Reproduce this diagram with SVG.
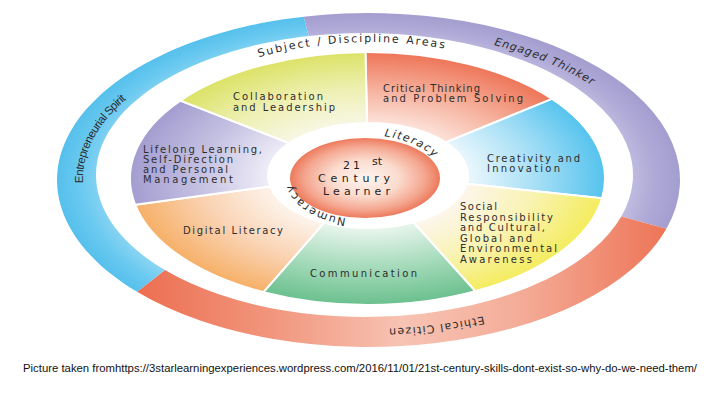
<svg xmlns="http://www.w3.org/2000/svg" width="720" height="405" viewBox="0 0 720 405">
<style>
.lbl{font-family:"DejaVu Sans","Liberation Sans",sans-serif;font-size:10px;fill:#2e2e2e}
.ring{font-family:"DejaVu Sans","Liberation Sans",sans-serif;font-size:11px;fill:#2a2a2a}
.ctr{font-family:"DejaVu Sans","Liberation Sans",sans-serif;font-size:11px;fill:#222}
.sep{stroke:#fff;stroke-width:2;stroke-linejoin:round}
</style>
<defs>
<radialGradient id="gBlue" gradientUnits="userSpaceOnUse" cx="0" cy="0" r="1" gradientTransform="translate(368.5 180) scale(311.5 167)">
<stop offset="0.84" stop-color="#8fd6f3"/><stop offset="0.92" stop-color="#6ccaf0"/><stop offset="1" stop-color="#55c0ec"/></radialGradient>
<radialGradient id="gPurple" gradientUnits="userSpaceOnUse" cx="0" cy="0" r="1" gradientTransform="translate(368.5 180) scale(311.5 167)">
<stop offset="0.84" stop-color="#c0bce0"/><stop offset="0.92" stop-color="#aea9d6"/><stop offset="1" stop-color="#a49ed0"/></radialGradient>
<linearGradient id="gSalmon" gradientUnits="userSpaceOnUse" x1="137" y1="0" x2="666" y2="0">
<stop offset="0" stop-color="#ec6f51"/><stop offset="0.25" stop-color="#f1957c"/><stop offset="0.5" stop-color="#f7c3b3"/><stop offset="0.72" stop-color="#f4ad99"/><stop offset="1" stop-color="#ed7557"/></linearGradient>
<radialGradient id="wCrit" gradientUnits="userSpaceOnUse" cx="0" cy="0" r="1" gradientTransform="translate(367.5 178.5) scale(237.5 126.5)"><stop offset="0.4" stop-color="#fde9e2"/><stop offset="0.7" stop-color="#f6b29e"/><stop offset="1" stop-color="#ee7558"/></radialGradient>
<radialGradient id="wCrea" gradientUnits="userSpaceOnUse" cx="0" cy="0" r="1" gradientTransform="translate(367.5 178.5) scale(237.5 126.5)"><stop offset="0.4" stop-color="#f0f9fd"/><stop offset="0.7" stop-color="#a9e0f6"/><stop offset="1" stop-color="#55c3ee"/></radialGradient>
<radialGradient id="wSoc" gradientUnits="userSpaceOnUse" cx="0" cy="0" r="1" gradientTransform="translate(367.5 178.5) scale(237.5 126.5)"><stop offset="0.4" stop-color="#fdf6ee"/><stop offset="0.7" stop-color="#f9f3b4"/><stop offset="1" stop-color="#f4ec5e"/></radialGradient>
<radialGradient id="wCom" gradientUnits="userSpaceOnUse" cx="0" cy="0" r="1" gradientTransform="translate(367.5 178.5) scale(237.5 126.5)"><stop offset="0.4" stop-color="#e8f5ec"/><stop offset="0.7" stop-color="#a6dbbb"/><stop offset="1" stop-color="#6bc08f"/></radialGradient>
<radialGradient id="wDig" gradientUnits="userSpaceOnUse" cx="0" cy="0" r="1" gradientTransform="translate(367.5 178.5) scale(237.5 126.5)"><stop offset="0.4" stop-color="#fdf4ec"/><stop offset="0.7" stop-color="#fad3b3"/><stop offset="1" stop-color="#f6b068"/></radialGradient>
<radialGradient id="wLife" gradientUnits="userSpaceOnUse" cx="0" cy="0" r="1" gradientTransform="translate(367.5 178.5) scale(237.5 126.5)"><stop offset="0.4" stop-color="#f1f0f8"/><stop offset="0.7" stop-color="#c6c2e3"/><stop offset="1" stop-color="#a39dd0"/></radialGradient>
<radialGradient id="wCol" gradientUnits="userSpaceOnUse" cx="0" cy="0" r="1" gradientTransform="translate(367.5 178.5) scale(237.5 126.5)"><stop offset="0.4" stop-color="#f8f8ea"/><stop offset="0.7" stop-color="#eef0b4"/><stop offset="1" stop-color="#dce266"/></radialGradient>
<radialGradient id="gDisc" gradientUnits="userSpaceOnUse" cx="0" cy="0" r="1" gradientTransform="translate(365 178) scale(75 40)"><stop offset="0" stop-color="#fef4ef"/><stop offset="0.45" stop-color="#fbdccf"/><stop offset="0.8" stop-color="#f4a68f"/><stop offset="1" stop-color="#ed7a5c"/></radialGradient>
<path id="subjPath" d="M160.42,110.5 A242 137 0 0 1 579.58,110.5"/>
<path id="engPath" d="M407.4,31.45 A290 150 0 0 1 635.9,123.8"/>
<path id="entPath" d="M91.4,215.3 A284 150 0 0 1 169.7,71.1"/>
<path id="ethPath" d="M589.1,275.4 A290 150 0 0 1 267.8,320"/>
<path id="litPath" d="M352.5,135.7 A78 44 0 0 1 442.8,171.4"/>
<path id="numPath" d="M366,220 A74 41 0 0 1 292,179"/>
</defs>
<rect width="720" height="405" fill="#fff"/>

<g id="ring-engaged-thinker">
<path d="M303.74,16.65 A311.5 167 0 0 1 666.39,228.83 L621.27,216.52 A268.5 142 0 0 0 308.68,36.1 Z" fill="url(#gPurple)"/>
<text class="ring" font-style="italic" letter-spacing="0.9"><textPath href="#engPath" startOffset="141" text-anchor="middle">Engaged Thinker</textPath></text>
</g>
<g id="ring-ethical-citizen">
<path d="M666.39,228.83 A311.5 167 0 0 1 137.02,291.74 L164.98,270.01 A268.5 142 0 0 0 621.27,216.52 Z" fill="url(#gSalmon)"/>
<text class="ring" letter-spacing="1.2"><textPath href="#ethPath" startOffset="162" text-anchor="middle">Ethical Citizen</textPath></text>
</g>
<g id="ring-entrepreneurial-spirit">
<path d="M137.02,291.74 A311.5 167 0 0 1 303.74,16.65 L308.68,36.1 A268.5 142 0 0 0 164.98,270.01 Z" fill="url(#gBlue)"/>
<text font-family="'Liberation Sans',Arial,sans-serif" font-size="11.5" fill="#2a2a2a" letter-spacing="-0.5"><textPath href="#entPath" startOffset="82" text-anchor="middle">Entrepreneurial Spirit</textPath></text>
</g>
<g id="label-subject-areas">
<text class="ring" letter-spacing="1.9"><textPath href="#subjPath" startOffset="46%" text-anchor="middle">Subject / Discipline Areas</textPath></text>
</g>

<g id="wedge-critical-thinking">
<path class="sep" d="M365.43,52 A237.5 126.5 0 0 1 552.07,98.89 L445.71,142.46 A100 52.5 0 0 0 367.13,123 Z" fill="url(#wCrit)"/>
<text class="lbl" x="383" y="91.5" textLength="97" lengthAdjust="spacing">Critical Thinking</text>
<text class="lbl" x="383" y="101.7" textLength="140" lengthAdjust="spacing">and Problem Solving</text>
</g>
<g id="wedge-creativity">
<path class="sep" d="M552.07,98.89 A237.5 126.5 0 0 1 602.08,198.29 L466.77,183.71 A100 52.5 0 0 0 445.71,142.46 Z" fill="url(#wCrea)"/>
<text class="lbl" x="487" y="161.5" textLength="93" lengthAdjust="spacing">Creativity and</text>
<text class="lbl" x="487" y="171.5" textLength="73" lengthAdjust="spacing">Innovation</text>
</g>
<g id="wedge-social-responsibility">
<path class="sep" d="M602.08,198.29 A237.5 126.5 0 0 1 475.32,291.21 L413.4,222.28 A100 52.5 0 0 0 466.77,183.71 Z" fill="url(#wSoc)"/>
<text class="lbl" x="460" y="210" textLength="37" lengthAdjust="spacing">Social</text>
<text class="lbl" x="460" y="220.7" textLength="93" lengthAdjust="spacing">Responsibility</text>
<text class="lbl" x="460" y="231.3" textLength="85" lengthAdjust="spacing">and Cultural,</text>
<text class="lbl" x="460" y="241.8" textLength="72" lengthAdjust="spacing">Global and</text>
<text class="lbl" x="460" y="252.4" textLength="97" lengthAdjust="spacing">Environmental</text>
<text class="lbl" x="460" y="262.8" textLength="72" lengthAdjust="spacing">Awareness</text>
</g>
<g id="wedge-communication">
<path class="sep" d="M475.32,291.21 A237.5 126.5 0 0 1 263.38,292.2 L324.16,222.69 A100 52.5 0 0 0 413.4,222.28 Z" fill="url(#wCom)"/>
<text class="lbl" x="310" y="277.3" textLength="107" lengthAdjust="spacing">Communication</text>
</g>
<g id="wedge-digital-literacy">
<path class="sep" d="M263.38,292.2 A237.5 126.5 0 0 1 135.19,204.8 L270.19,186.41 A100 52.5 0 0 0 324.16,222.69 Z" fill="url(#wDig)"/>
<text class="lbl" x="183" y="234" textLength="100" lengthAdjust="spacing">Digital Literacy</text>
</g>
<g id="wedge-lifelong-learning">
<path class="sep" d="M135.19,204.8 A237.5 126.5 0 0 1 180.35,100.61 L289.2,143.18 A100 52.5 0 0 0 270.19,186.41 Z" fill="url(#wLife)"/>
<text class="lbl" x="143" y="152.6" textLength="119" lengthAdjust="spacing">Lifelong Learning,</text>
<text class="lbl" x="143" y="162.8" textLength="90" lengthAdjust="spacing">Self-Direction</text>
<text class="lbl" x="143" y="173.1" textLength="85" lengthAdjust="spacing">and Personal</text>
<text class="lbl" x="143" y="183.4" textLength="90" lengthAdjust="spacing">Management</text>
</g>
<g id="wedge-collaboration">
<path class="sep" d="M180.35,100.61 A237.5 126.5 0 0 1 365.43,52 L367.13,123 A100 52.5 0 0 0 289.2,143.18 Z" fill="url(#wCol)"/>
<text class="lbl" x="233" y="100" textLength="90" lengthAdjust="spacing">Collaboration</text>
<text class="lbl" x="233" y="110.6" textLength="102" lengthAdjust="spacing">and Leadership</text>
</g>

<g id="center-learner">
<ellipse cx="365" cy="178" rx="75" ry="40" fill="url(#gDisc)"/>
<text class="ctr" x="343" y="168.8" textLength="17" lengthAdjust="spacing">21</text>
<text class="ctr" x="372" y="164.5" font-size="7">st</text>
<text class="ctr" x="318" y="182" textLength="72" lengthAdjust="spacing">Century</text>
<text class="ctr" x="323" y="195.2" textLength="67" lengthAdjust="spacing">Learner</text>
</g>
<g id="label-literacy">
<text class="ring" font-size="9.5" font-style="italic" letter-spacing="1.5"><textPath href="#litPath" startOffset="60" text-anchor="middle">Literacy</textPath></text>
</g>
<g id="label-numeracy">
<text class="ring" font-size="9.5" letter-spacing="1.4"><textPath href="#numPath" startOffset="54" text-anchor="middle">Numeracy</textPath></text>
</g>

<g id="caption">
<text x="23" y="372" font-family="'Liberation Sans',Arial,sans-serif" font-size="10.5" fill="#111" textLength="674" lengthAdjust="spacingAndGlyphs">Picture taken fromhttps://3starlearningexperiences.wordpress.com/2016/11/01/21st-century-skills-dont-exist-so-why-do-we-need-them/</text>
</g>
</svg>
